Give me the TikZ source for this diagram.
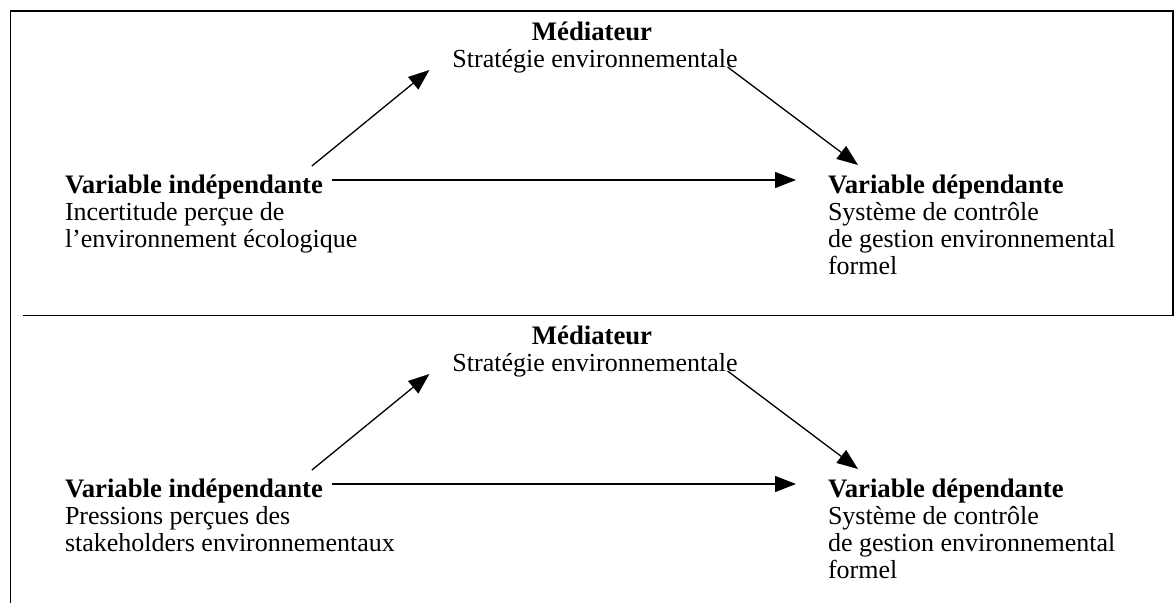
\documentclass[tikz,border=0pt]{standalone}
\usepackage{fontspec}
\setmainfont{Liberation Serif}
\usetikzlibrary{arrows.meta,calc}
\begin{document}
\begin{tikzpicture}[x=1pt,y=-1pt,
  txt/.style={inner sep=0pt,outer sep=0pt,font=\fontsize{26}{27}\selectfont,anchor=base west},
  ttl/.style={txt,font=\fontsize{26.7}{27}\selectfont\bfseries},
  ctxt/.style={txt,anchor=base},
  cttl/.style={ttl,anchor=base},
  arr/.style={line width=1.3pt,-{Triangle[length=21pt,width=16pt]}},
  frame/.style={line width=1.6pt}]
\useasboundingbox (0,0) rectangle (1174,603);
% frame
\draw[frame] (10.5,603) -- (10.5,11) -- (1174,11);
\draw[frame] (1173.2,11) -- (1173.2,315.5);
\draw[frame] (23,315.5) -- (1174,315.5);

% ---- top panel ----
\node[cttl] (med1) at (592,40) {Médiateur};
\node[ctxt] (str1) at (595,67) {Stratégie environnementale};
\node[ttl] (vi1) at (65,193) {Variable indépendante};
\node[txt] (vi1a) at (65,220) {Incertitude perçue de};
\node[txt] (vi1b) at (65,247) {l’environnement écologique};
\node[ttl] (vd1) at (828,193) {Variable dépendante};
\node[txt] (vd1a) at (828,220) {Système de contrôle};
\node[txt] (vd1b) at (828,247) {de gestion environnemental};
\node[txt] (vd1c) at (828,274) {formel};

\draw[arr] ($(vi1.base east)+(9,-13)$) -- ($(vd1.base west)+(-32,-13)$);
\draw[arr] ($(vi1.base east)+(-11,-27)$) -- ($(str1.base west)+(-23,3)$);
\draw[arr] ($(str1.base east)+(-10,0)$) -- ($(vd1.base west)+(30,-28)$);

% ---- bottom panel ----
\node[cttl] (med2) at (592,344) {Médiateur};
\node[ctxt] (str2) at (595,371) {Stratégie environnementale};
\node[ttl] (vi2) at (65,497) {Variable indépendante};
\node[txt] (vi2a) at (65,524) {Pressions perçues des};
\node[txt] (vi2b) at (65,551) {stakeholders environnementaux};
\node[ttl] (vd2) at (828,497) {Variable dépendante};
\node[txt] (vd2a) at (828,524) {Système de contrôle};
\node[txt] (vd2b) at (828,551) {de gestion environnemental};
\node[txt] (vd2c) at (828,578) {formel};

\draw[arr] ($(vi2.base east)+(9,-13)$) -- ($(vd2.base west)+(-32,-13)$);
\draw[arr] ($(vi2.base east)+(-11,-27)$) -- ($(str2.base west)+(-23,3)$);
\draw[arr] ($(str2.base east)+(-10,0)$) -- ($(vd2.base west)+(30,-28)$);
\end{tikzpicture}
\end{document}
